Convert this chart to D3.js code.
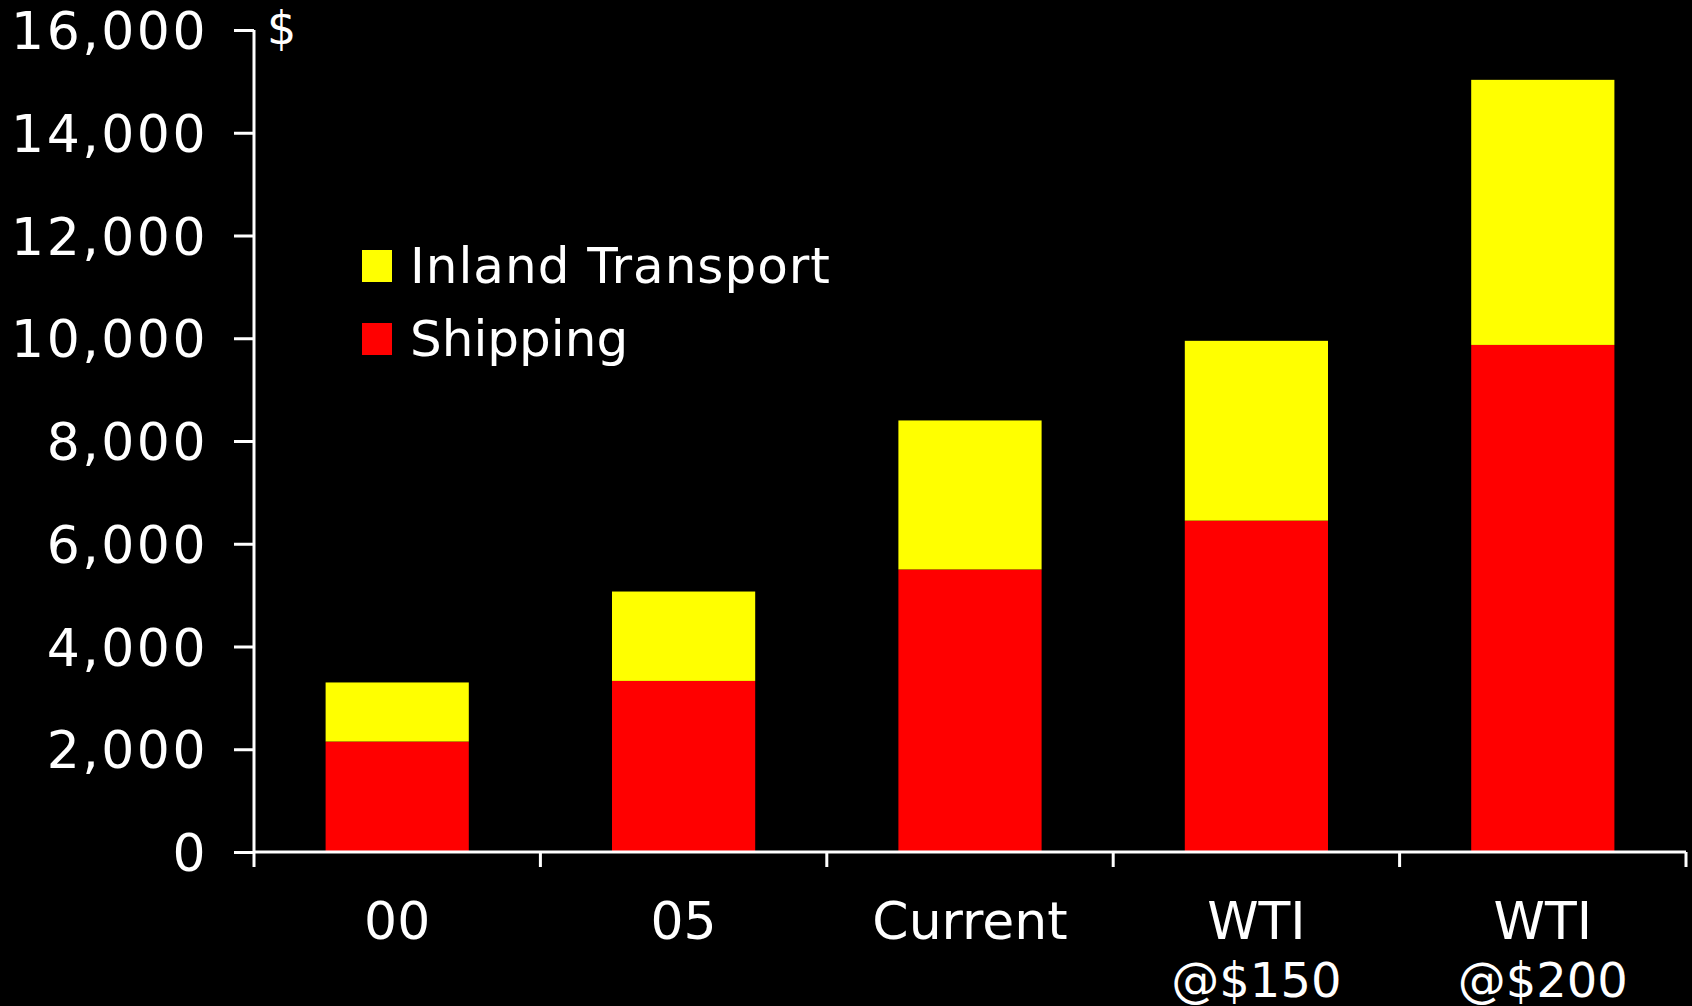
<!DOCTYPE html>
<html lang="en">
<head>
    <meta charset="UTF-8">
    <title>Shipping and Inland Transport Cost</title>
    <script src="https://d3js.org/d3.v7.min.js"></script>
    <style>
        body { margin: 0; background: #000; }
        text { font-family: "DejaVu Sans", Verdana, sans-serif; fill: #fff; }
    </style>
</head>
<body>
    <svg width="1692" height="1006"></svg>

    <script>
        // Chart data
        const categories = [["00"], ["05"], ["Current"], ["WTI", "@$150"], ["WTI", "@$200"]];
        const shipping = [2150, 3330, 5500, 6450, 9870];
        const inland = [1150, 1740, 2900, 3500, 5160];
        const seriesNames = ["Shipping", "Inland Transport"];
        const seriesColors = ["#ff0000", "#ffff00"];
        const yTicks = [0, 2000, 4000, 6000, 8000, 10000, 12000, 14000, 16000];

        const margin = { top: 30, right: 6, bottom: 154, left: 254 },
              width = 1692 - margin.left - margin.right,
              height = 1006 - margin.top - margin.bottom;

        const svg = d3.select("svg")
                      .style("background", "#000")
                      .append("g")
                      .attr("transform", `translate(${margin.left},${margin.top})`);

        const keys = categories.map(c => c.join(" "));
        const rows = keys.map((k, i) => ({ key: k, Shipping: shipping[i], "Inland Transport": inland[i] }));
        const stacked = d3.stack().keys(seriesNames)(rows);

        const xScale = d3.scaleBand()
                         .domain(keys)
                         .range([0, width])
                         .paddingInner(0.5)
                         .paddingOuter(0.25);

        const yScale = d3.scaleLinear()
                         .domain([0, 16000])
                         .range([height, 0]);

        // Bars
        svg.selectAll("g.layer")
           .data(stacked)
           .enter()
           .append("g")
           .attr("class", "layer")
           .attr("fill", (d, i) => seriesColors[i])
           .selectAll("rect")
           .data(d => d)
           .enter()
           .append("rect")
           .attr("x", d => xScale(d.data.key))
           .attr("width", xScale.bandwidth())
           .attr("y", d => yScale(d[1]))
           .attr("height", d => yScale(d[0]) - yScale(d[1]));

        // Y axis
        const yAxis = svg.append("g")
           .call(d3.axisLeft(yScale)
                   .tickValues(yTicks)
                   .tickFormat(d3.format(","))
                   .tickSize(20)
                   .tickPadding(26));
        yAxis.select(".domain").attr("stroke", "#fff").attr("stroke-width", 3)
             .attr("d", `M0,0V${height}`);
        yAxis.selectAll(".tick line").attr("stroke", "#fff").attr("stroke-width", 3);
        yAxis.selectAll(".tick text")
             .style("font-size", "52px")
             .style("letter-spacing", "2.5px")
             .attr("dy", "0.36em");

        // X axis: ticks sit between the categories
        const step = xScale.step();
        const xAxis = svg.append("g").attr("transform", `translate(0, ${height})`);
        xAxis.append("line")
             .attr("x1", 0).attr("x2", width)
             .attr("stroke", "#fff").attr("stroke-width", 3);
        xAxis.selectAll("line.tick")
             .data(d3.range(keys.length + 1))
             .enter()
             .append("line")
             .attr("class", "tick")
             .attr("x1", i => i * step).attr("x2", i => i * step)
             .attr("y1", 0).attr("y2", 15)
             .attr("stroke", "#fff").attr("stroke-width", 3);

        const labels = xAxis.selectAll("text.cat")
             .data(categories)
             .enter()
             .append("text")
             .attr("class", "cat")
             .attr("text-anchor", "middle")
             .attr("x", (d, i) => xScale(keys[i]) + xScale.bandwidth() / 2)
             .attr("y", 87)
             .style("font-size", "52px");
        labels.selectAll("tspan")
              .data(d => d)
              .enter()
              .append("tspan")
              .attr("x", function () { return this.parentNode.getAttribute("x"); })
              .attr("dy", (d, i) => i === 0 ? 0 : 58)
              .style("font-size", (d, i) => i === 0 ? "52px" : "48px")
              .text(d => d);

        // Unit label
        svg.append("text")
           .attr("x", 13)
           .attr("y", 14)
           .style("font-size", "46px")
           .text("$");

        // Legend
        const legend = svg.append("g").attr("transform", "translate(108, 220)");
        const legendItems = [1, 0];
        legendItems.forEach((s, i) => {
            legend.append("rect")
                  .attr("x", 0)
                  .attr("y", i * 73)
                  .attr("width", 30)
                  .attr("height", 32)
                  .attr("fill", seriesColors[s]);
            legend.append("text")
                  .attr("x", 48)
                  .attr("y", i * 73 + 33)
                  .style("font-size", "50px")
                  .style("letter-spacing", s === 1 ? "1px" : "0px")
                  .text(seriesNames[s]);
        });
    </script>
</body>
</html>
